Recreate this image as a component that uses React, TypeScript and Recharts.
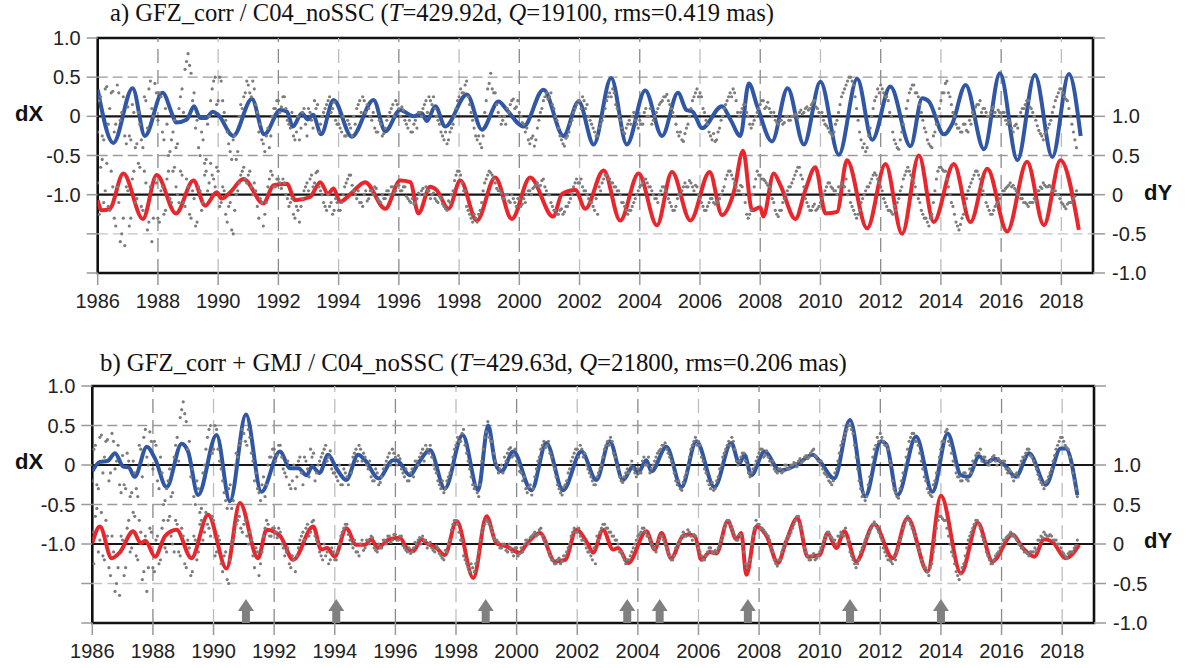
import React from "react";
import { ComposedChart, Line, Scatter, XAxis, YAxis, ReferenceLine, ReferenceArea } from "recharts";

// x axis
const yearTicks = [1986, 1988, 1990, 1992, 1994, 1996, 1998, 2000, 2002, 2004, 2006, 2008, 2010, 2012, 2014, 2016, 2018];
const X_MIN = 1986;
const X_MAX = 2019.05;
const leftTicks = [1, 0.5, 0, -0.5, -1, -1.5, -2];
const rightTicks = [2, 1.5, 1, 0.5, 0, -0.5, -1];

// panel a) model lines [year, mas]
const aDX = [[1986.0,0.34],[1986.52,-0.34],[1987.16,0.36],[1987.57,-0.25],[1988.15,0.30],[1988.5,0.0],[1988.6,-0.08],[1988.96,-0.04],[1989.2,0.13],[1989.4,-0.02],[1989.6,-0.02],[1989.82,0.06],[1990.0,0.02],[1990.5,-0.25],[1991.12,0.22],[1991.53,-0.23],[1992.06,0.08],[1992.28,0.06],[1992.48,-0.13],[1992.78,0.04],[1992.98,-0.04],[1993.15,0.02],[1993.42,-0.23],[1993.83,0.21],[1994.44,-0.26],[1995.16,0.21],[1995.55,-0.19],[1996.04,0.08],[1996.49,0.0],[1996.76,0.04],[1996.93,-0.06],[1997.21,0.13],[1997.54,-0.13],[1998.26,0.28],[1998.76,-0.17],[1999.31,0.19],[1999.59,0.08],[2000.14,-0.13],[2000.8,0.34],[2001.47,-0.25],[2001.97,0.19],[2002.47,-0.36],[2003.05,0.49],[2003.57,-0.36],[2004.18,0.33],[2004.74,-0.25],[2005.27,0.30],[2005.55,0.08],[2005.75,0.06],[2006.07,-0.15],[2006.73,0.13],[2007.01,-0.04],[2007.34,-0.25],[2007.62,0.42],[2007.9,0.13],[2008.39,-0.32],[2008.91,0.36],[2009.45,-0.36],[2010.0,0.44],[2010.61,-0.49],[2011.22,0.48],[2011.72,-0.30],[2012.32,0.38],[2012.99,-0.38],[2013.38,0.23],[2013.6,0.19],[2014.1,-0.23],[2014.37,-0.1],[2014.82,0.40],[2015.43,-0.42],[2015.96,0.55],[2016.54,-0.56],[2017.12,0.53],[2017.7,-0.52],[2018.25,0.54],[2018.64,-0.25]];
const aDY = [[1986.0,-0.07],[1986.13,-0.2],[1986.4,-0.18],[1986.85,0.27],[1987.5,-0.31],[1987.96,0.25],[1988.6,-0.24],[1989.18,0.18],[1989.57,-0.14],[1989.95,0.03],[1990.12,-0.05],[1990.4,0.03],[1990.84,0.2],[1991.5,-0.11],[1991.84,0.12],[1992.28,0.14],[1992.56,-0.07],[1993.05,-0.03],[1993.39,0.16],[1993.65,0.01],[1993.83,0.08],[1994.05,-0.09],[1994.4,0.01],[1994.88,0.16],[1995.55,-0.18],[1996.04,0.18],[1996.38,0.16],[1996.65,-0.24],[1997.04,0.1],[1997.25,0.06],[1997.65,-0.18],[1998.04,0.18],[1998.59,-0.33],[1999.2,0.22],[1999.75,-0.31],[2000.36,0.22],[2001.12,-0.28],[2001.42,0.01],[2001.86,0.06],[2002.19,-0.18],[2002.8,0.31],[2003.35,-0.33],[2003.96,0.27],[2004.57,-0.39],[2005.07,0.29],[2005.68,-0.33],[2006.32,0.29],[2006.73,-0.26],[2007.12,0.03],[2007.43,0.56],[2007.73,-0.2],[2008.0,-0.16],[2008.1,-0.28],[2008.45,0.27],[2008.67,0.12],[2009.17,-0.31],[2009.5,0.06],[2009.83,0.35],[2010.17,-0.24],[2010.55,-0.22],[2010.88,0.44],[2011.55,-0.43],[2012.16,0.39],[2012.71,-0.5],[2013.27,0.5],[2013.76,-0.35],[2014.43,0.39],[2014.98,-0.35],[2015.54,0.33],[2016.2,-0.47],[2016.86,0.42],[2017.42,-0.39],[2017.97,0.44],[2018.58,-0.45]];

// panel b) model lines
const bDX = [[1986.0,-0.08],[1986.25,0.04],[1986.5,0.05],[1986.75,0.15],[1987.02,-0.02],[1987.2,-0.03],[1987.4,-0.15],[1987.8,0.23],[1988.07,0.08],[1988.45,-0.28],[1988.95,0.27],[1989.16,0.17],[1989.49,-0.38],[1990.1,0.38],[1990.54,-0.46],[1991.07,0.64],[1991.58,-0.34],[1992.19,0.17],[1992.52,-0.04],[1992.8,-0.04],[1993.07,-0.13],[1993.25,-0.02],[1993.5,-0.10],[1993.78,0.13],[1994.05,-0.04],[1994.38,-0.19],[1994.77,0.13],[1995.0,0.06],[1995.45,-0.17],[1995.92,0.06],[1996.04,0.06],[1996.48,-0.13],[1996.75,0.02],[1997.14,0.19],[1997.63,-0.30],[1998.22,0.38],[1998.73,-0.32],[1999.06,0.50],[1999.3,0.02],[1999.5,-0.08],[1999.89,0.17],[2000.49,-0.32],[2000.98,0.28],[2001.53,-0.32],[2002.14,0.17],[2002.63,-0.19],[2003.07,0.30],[2003.51,-0.19],[2003.84,-0.02],[2004.0,-0.10],[2004.28,0.06],[2004.45,-0.08],[2004.94,0.23],[2005.44,-0.28],[2005.93,0.30],[2006.53,-0.28],[2007.08,0.28],[2007.35,0.02],[2007.52,0.13],[2007.74,-0.13],[2008.18,0.17],[2008.68,-0.07],[2009.23,0.0],[2009.77,0.13],[2010.0,0.05],[2010.48,-0.17],[2011.0,0.57],[2011.5,-0.40],[2012.02,0.30],[2012.2,0.26],[2012.57,-0.38],[2013.18,0.36],[2013.72,-0.34],[2014.22,0.40],[2014.66,-0.13],[2014.9,-0.15],[2015.26,0.11],[2015.5,0.03],[2015.76,0.08],[2016.1,0.0],[2016.47,-0.15],[2016.91,0.15],[2017.46,-0.25],[2017.95,0.21],[2018.12,0.21],[2018.5,-0.38]];
const bDY = [[1986.0,0.01],[1986.25,0.22],[1986.64,-0.18],[1986.9,-0.11],[1987.35,0.16],[1987.6,0.01],[1987.75,0.04],[1988.07,-0.16],[1988.4,0.1],[1988.78,0.18],[1989.27,-0.18],[1989.82,0.37],[1990.43,-0.31],[1990.87,0.52],[1991.47,-0.18],[1991.75,0.18],[1992.2,0.1],[1992.63,-0.2],[1993.29,0.22],[1993.55,-0.07],[1993.75,-0.05],[1994.0,-0.16],[1994.38,0.2],[1994.7,-0.01],[1995.0,-0.01],[1995.2,0.06],[1995.42,-0.05],[1995.6,0.0],[1995.8,0.06],[1996.15,0.08],[1996.37,-0.05],[1996.59,-0.09],[1996.86,0.06],[1997.03,0.01],[1997.35,-0.05],[1997.63,-0.14],[1998.02,0.29],[1998.57,-0.43],[1999.01,0.35],[1999.33,0.01],[1999.66,-0.03],[2000.1,-0.11],[2000.33,0.0],[2000.77,0.14],[2001.26,-0.22],[2001.6,-0.2],[2001.97,0.18],[2002.35,0.0],[2002.52,-0.11],[2002.85,0.18],[2003.18,-0.07],[2003.35,-0.05],[2003.68,-0.24],[2004.28,0.16],[2004.56,-0.07],[2004.78,0.14],[2005.1,-0.18],[2005.48,0.1],[2005.65,0.12],[2005.88,0.1],[2006.1,-0.2],[2006.37,-0.1],[2006.59,-0.12],[2006.97,0.29],[2007.25,0.06],[2007.41,0.14],[2007.58,-0.39],[2007.91,0.22],[2008.25,0.1],[2008.62,-0.24],[2008.89,0.03],[2009.27,0.33],[2009.6,-0.16],[2010.0,-0.14],[2010.26,0.14],[2010.55,-0.05],[2010.81,0.16],[2011.2,-0.22],[2011.8,0.25],[2012.41,-0.18],[2012.9,0.33],[2013.56,-0.35],[2014.0,0.61],[2014.66,-0.37],[2015.21,0.27],[2015.7,-0.22],[2016.36,0.12],[2016.7,-0.05],[2017.08,-0.16],[2017.4,0.06],[2017.67,0.03],[2018.12,-0.18],[2018.56,-0.01]];

// observed C04_noSSC samples, one every 0.1 yr from 1986.0 (and a second run from 1986.05)
const obsDX = [
  -0.2,0.25,-0.3,0.38,0.1,0.32,-0.1,0.3,0.05,-0.25,
  0.12,-0.3,0.05,-0.35,-0.1,-0.4,0.2,0.35,0.1,0.42,
  -0.05,0.25,-0.3,-0.1,-0.45,-0.2,-0.4,0.1,0.35,0.6,
  0.8,0.55,0.3,-0.05,-0.5,-0.3,-0.55,0.0,0.35,0.5,
  0.2,0.45,0.05,-0.2,-0.45,-0.3,-0.55,0.0,0.1,0.3,
  0.4,0.25,0.35,0.05,-0.1,-0.35,-0.25,-0.4,0.0,0.1,
  0.2,0.12,0.25,-0.05,-0.15,-0.25,-0.2,-0.3,0.05,-0.1,
  0.1,-0.05,0.2,0.15,-0.1,0.05,0.15,0.25,0.1,-0.05,
  -0.1,-0.2,-0.25,-0.05,-0.15,0.0,0.1,0.2,0.25,0.05,
  0.1,-0.05,-0.15,-0.2,-0.1,-0.22,-0.05,0.05,0.15,0.2,
  0.1,0.12,-0.05,-0.15,-0.2,-0.1,-0.15,0.05,0.1,0.2,
  0.25,0.15,0.1,-0.05,-0.2,-0.3,-0.35,-0.2,-0.1,0.1,
  0.25,0.3,0.4,0.25,0.05,-0.15,-0.3,-0.35,-0.25,0.2,
  0.42,0.35,0.3,0.05,-0.1,0.0,0.1,0.15,0.22,0.12,
  0.05,-0.08,-0.2,-0.3,-0.28,-0.38,-0.15,0.05,0.2,0.3,
  0.25,0.15,0.0,-0.15,-0.3,-0.38,-0.25,-0.1,0.05,0.15,
  0.2,0.25,0.1,0.0,-0.1,-0.2,-0.25,-0.1,0.0,0.2,
  0.3,0.35,0.15,0.0,-0.15,-0.22,-0.1,-0.1,0.05,-0.1,
  -0.05,-0.1,0.1,0.0,-0.1,0.0,0.1,0.18,0.25,0.28,
  0.15,0.05,-0.1,-0.25,-0.3,-0.22,-0.1,0.1,0.25,0.35,
  0.3,0.1,-0.05,-0.2,-0.3,-0.32,-0.2,-0.05,0.1,0.2,
  0.3,0.35,0.2,0.0,0.1,0.15,0.0,-0.15,-0.05,0.05,
  0.15,0.2,0.12,0.1,0.0,-0.05,-0.1,-0.05,-0.08,0.0,
  -0.05,0.0,0.02,0.05,0.03,0.1,0.08,0.15,0.2,0.1,
  0.0,-0.05,-0.12,-0.2,-0.25,-0.1,0.05,0.25,0.35,0.45,
  0.5,0.4,0.1,-0.2,-0.4,-0.45,-0.25,0.0,0.2,0.35,
  0.4,0.3,0.25,0.05,-0.2,-0.35,-0.42,-0.2,0.0,0.2,
  0.35,0.4,0.3,0.15,-0.05,-0.2,-0.35,-0.4,-0.2,0.0,
  0.2,0.3,0.45,0.25,0.05,-0.1,-0.15,-0.2,-0.1,-0.2,
  -0.1,0.0,0.15,0.2,0.1,0.05,0.0,0.1,0.05,0.08,
  0.0,0.05,-0.1,-0.08,-0.2,-0.1,0.0,0.1,0.15,0.2,
  0.1,0.0,-0.12,-0.22,-0.3,-0.2,-0.1,0.05,0.2,0.3,
  0.35,0.25,0.2,0.0,-0.2,-0.4,
];
const obsDX2 = [
  0.2,-0.25,0.35,-0.1,0.3,-0.2,0.4,-0.05,0.25,-0.35,
  -0.25,0.15,-0.4,0.05,-0.3,0.25,-0.15,0.45,0.0,0.3,
  0.3,-0.2,0.1,-0.5,-0.3,-0.05,-0.35,0.25,0.05,0.7,
  0.65,0.2,-0.15,-0.4,-0.2,-0.6,-0.1,0.2,0.45,0.15,
  0.5,0.2,-0.05,-0.35,-0.55,-0.25,-0.45,0.15,0.25,0.45,
  0.3,0.45,0.15,-0.2,-0.3,-0.45,-0.15,-0.25,0.1,0.2,
  0.05,0.25,0.1,-0.1,0.05,-0.3,0.0,-0.15,0.1,-0.25,
  0.05,-0.15,0.1,-0.2,0.0,0.1,0.2,0.05,0.18,-0.1,
  -0.15,0.0,-0.25,-0.1,-0.25,-0.1,0.15,0.05,0.2,0.15,
  0.0,0.05,-0.2,-0.05,-0.25,-0.15,0.0,0.1,0.0,0.15,
  0.0,0.08,-0.1,-0.05,-0.2,-0.05,0.05,0.0,0.15,0.05,
  0.2,0.25,0.0,-0.1,-0.25,-0.2,-0.3,-0.15,0.0,0.2,
  0.35,0.3,0.45,0.15,-0.05,-0.25,-0.25,-0.4,0.05,0.35,
  0.55,0.3,0.15,0.0,-0.05,-0.1,0.05,0.2,0.1,0.2,
  0.0,-0.1,-0.15,-0.35,-0.25,-0.3,-0.05,0.1,0.25,0.22,
  0.3,0.1,-0.05,-0.25,-0.35,-0.28,-0.2,-0.05,0.1,0.2,
  0.1,0.2,0.15,-0.05,-0.15,-0.25,-0.15,-0.05,0.1,0.25,
  0.25,0.3,0.1,-0.05,-0.2,-0.15,-0.05,0.0,-0.05,-0.15,
  -0.1,0.05,0.0,0.1,-0.05,0.05,0.15,0.2,0.25,0.2,
  0.1,0.0,-0.2,-0.2,-0.32,-0.15,0.0,0.2,0.3,0.25,
  0.25,0.05,-0.1,-0.25,-0.22,-0.3,-0.15,0.0,0.15,0.25,
  0.25,0.3,0.05,0.05,0.15,0.05,-0.1,-0.1,0.0,0.1,
  0.2,0.1,0.18,0.05,0.05,-0.08,-0.05,-0.1,0.0,-0.05,
  0.0,0.03,-0.02,0.08,0.05,0.12,0.1,0.18,0.12,0.05,
  0.05,-0.1,-0.15,-0.22,-0.2,-0.05,0.15,0.3,0.4,0.5,
  0.45,0.25,-0.05,-0.3,-0.35,-0.4,-0.15,0.1,0.25,0.3,
  0.35,0.25,0.2,0.0,-0.3,-0.4,-0.3,-0.1,0.1,0.3,
  0.4,0.3,0.25,0.05,-0.15,-0.3,-0.38,-0.25,-0.1,0.1,
  0.3,0.42,0.3,0.15,0.0,-0.15,-0.2,-0.1,-0.18,-0.05,
  0.05,0.12,0.15,0.05,0.1,0.0,0.05,0.12,0.0,0.05,
  0.05,-0.05,-0.05,-0.15,-0.12,-0.15,0.05,0.1,0.2,0.12,
  0.05,-0.05,-0.18,-0.25,-0.22,-0.15,-0.05,0.12,0.25,0.35,
  0.3,0.22,0.1,-0.1,-0.3,
];
const obsDY = [
  0.15,0.35,-0.1,0.4,-0.2,0.1,-0.4,-0.1,-0.5,-0.65,
  0.05,-0.3,0.3,-0.05,0.35,-0.2,0.15,-0.35,-0.6,0.2,
  -0.3,0.05,-0.25,0.2,-0.05,0.3,0.1,-0.1,0.25,-0.15,
  0.1,-0.3,-0.05,-0.35,0.05,-0.1,0.3,0.15,0.25,0.1,
  0.3,-0.1,0.05,-0.35,-0.1,-0.5,0.0,0.15,0.3,0.2,
  0.25,0.1,0.15,-0.15,-0.05,-0.4,-0.1,0.2,0.25,0.1,
  0.2,0.08,0.15,-0.05,-0.1,-0.25,-0.15,-0.35,-0.05,0.1,
  0.05,0.25,0.15,0.3,0.05,-0.1,-0.2,-0.15,-0.25,-0.05,
  -0.2,-0.1,0.1,0.2,0.25,0.05,-0.05,-0.1,-0.15,0.05,
  -0.05,0.05,0.1,-0.05,-0.1,-0.05,0.05,0.0,0.1,0.05,
  0.12,0.05,0.1,-0.05,-0.1,-0.12,-0.05,0.0,0.08,0.1,
  0.05,0.0,-0.05,-0.1,-0.05,-0.15,-0.2,-0.1,0.05,0.25,
  0.3,0.15,0.05,-0.2,-0.3,-0.25,-0.35,-0.2,0.05,0.2,
  0.3,0.25,0.15,0.05,0.02,-0.05,0.0,-0.1,-0.05,-0.15,
  -0.05,-0.12,-0.1,0.05,0.0,0.1,0.15,0.12,0.2,0.05,
  0.0,-0.15,-0.2,-0.25,-0.18,-0.22,-0.15,-0.05,0.1,0.2,
  0.15,0.1,0.05,-0.05,-0.1,-0.2,-0.25,0.05,0.2,0.25,
  0.2,0.15,0.1,0.05,-0.1,-0.15,-0.25,-0.2,-0.1,0.0,
  0.1,0.15,0.2,0.1,0.05,-0.05,-0.1,0.05,0.1,0.0,
  -0.1,-0.2,-0.15,0.0,0.05,0.15,0.1,0.15,0.05,0.1,
  -0.05,-0.15,-0.2,-0.1,-0.05,-0.12,-0.1,0.0,0.1,0.25,
  0.3,0.2,0.1,0.05,0.1,-0.1,-0.3,-0.2,0.1,0.3,
  0.25,0.2,0.15,0.1,-0.05,-0.2,-0.28,-0.2,-0.05,0.05,
  0.1,0.2,0.3,0.35,0.2,-0.05,-0.15,-0.2,-0.12,-0.18,
  -0.1,0.0,0.1,0.15,0.08,0.05,0.1,0.15,0.1,0.0,
  -0.1,-0.2,-0.3,-0.2,-0.05,0.05,0.1,0.2,0.28,0.2,
  0.1,-0.05,-0.15,-0.2,-0.25,-0.2,-0.05,0.1,0.25,0.35,
  0.25,0.15,0.0,-0.1,-0.25,-0.3,-0.4,-0.25,0.05,0.3,
  0.35,0.3,0.2,0.0,-0.15,-0.35,-0.45,-0.3,-0.15,0.05,
  0.15,0.25,0.3,0.2,0.05,-0.1,-0.2,-0.25,-0.15,-0.1,
  0.0,0.05,0.1,0.15,0.12,0.05,0.0,-0.05,-0.1,-0.15,
  -0.1,-0.05,0.05,0.1,0.15,0.1,0.12,0.05,0.05,0.0,
  -0.1,-0.15,-0.12,-0.1,-0.05,0.05,
];
const obsDY2 = [
  -0.25,0.45,0.05,-0.15,0.3,-0.3,0.1,-0.6,-0.3,0.1,
  -0.4,0.2,-0.1,0.4,-0.15,0.3,-0.45,0.1,-0.3,0.15,
  -0.35,0.1,-0.2,0.3,-0.1,0.35,0.0,0.3,-0.1,0.2,
  -0.25,0.05,-0.4,0.1,-0.2,0.25,0.05,0.4,0.2,0.35,
  -0.15,0.1,-0.25,-0.15,-0.45,-0.2,0.05,0.25,0.35,0.15,
  0.3,0.0,0.05,-0.3,-0.1,-0.25,0.1,0.3,0.1,0.2,
  0.15,0.2,0.0,-0.15,-0.05,-0.3,-0.2,-0.15,0.05,0.15,
  0.2,0.1,0.28,0.1,0.0,-0.15,0.0,-0.1,-0.2,-0.1,
  -0.2,0.0,0.15,0.25,0.12,0.0,0.05,-0.1,0.0,-0.08,
  0.05,0.0,0.08,-0.08,0.0,-0.05,0.05,0.1,0.02,0.12,
  0.05,0.1,-0.02,-0.08,-0.05,-0.1,0.02,0.05,0.0,0.05,
  -0.05,0.02,-0.08,-0.02,-0.12,-0.18,-0.08,0.0,0.18,0.3,
  0.25,0.05,-0.15,-0.25,-0.35,-0.3,-0.25,-0.1,0.15,0.25,
  0.28,0.2,0.08,0.05,-0.05,0.0,-0.08,0.0,-0.1,-0.05,
  -0.15,-0.05,0.0,0.05,0.08,0.12,0.1,0.18,0.1,0.0,
  -0.1,-0.2,-0.25,-0.2,-0.25,-0.15,-0.1,0.0,0.15,0.15,
  0.2,0.05,0.0,-0.1,-0.15,-0.05,0.1,0.15,0.25,0.2,
  0.15,0.1,0.05,0.0,-0.1,-0.2,-0.2,-0.15,-0.05,0.05,
  0.12,0.2,0.15,0.1,0.0,-0.05,0.0,0.1,0.05,-0.05,
  -0.15,-0.2,-0.05,0.0,0.1,0.1,0.18,0.1,0.12,0.0,
  -0.1,-0.2,-0.15,-0.05,-0.1,-0.08,-0.05,0.05,0.2,0.3,
  0.25,0.15,0.05,0.12,0.0,-0.25,-0.25,0.0,0.2,0.25,
  0.2,0.18,0.12,0.05,-0.1,-0.25,-0.2,-0.1,0.0,0.1,
  0.15,0.25,0.35,0.25,0.1,-0.1,-0.2,-0.15,-0.2,-0.15,
  -0.05,0.05,0.15,0.1,0.05,0.0,0.1,0.12,0.2,0.05,
  -0.15,-0.25,-0.25,-0.1,0.0,0.1,0.15,0.25,0.25,0.15,
  0.05,-0.1,-0.2,-0.22,-0.15,-0.1,0.05,0.2,0.3,0.3,
  0.2,0.1,-0.05,-0.2,-0.3,-0.35,-0.3,-0.1,0.2,0.35,
  0.32,0.3,0.1,-0.1,-0.25,-0.4,-0.38,-0.25,-0.05,0.1,
  0.2,0.3,0.25,0.1,0.0,-0.15,-0.25,-0.2,-0.12,-0.05,
  0.05,0.08,0.12,0.1,0.08,0.0,-0.05,-0.1,-0.12,-0.1,
  -0.1,-0.08,0.05,0.08,0.12,0.1,0.1,0.05,0.0,-0.05,
  -0.12,-0.18,-0.1,-0.1,-0.02,
];

// epochs marked with arrows in panel b
const arrowYears = [1991.07, 1994.05, 1998.98, 2003.65, 2004.72, 2007.63, 2011.0, 2014.0];

const toPts = (arr: number[][]) => arr.map(([t, v]) => ({ t, v }));
const obsPts = (vals: number[], start: number) => vals.map((v, i) => ({ t: start + i / 10, v }));

const BLUE = "#3056a6";
const RED = "#e8262c";
const GREY_DOT = "#7c7c7c";
const SANS = "'Liberation Sans', Arial, sans-serif";
const SERIF = "'Liberation Serif', 'Times New Roman', serif";

const dotShape = (p: any) => <circle cx={p.cx} cy={p.cy} r={1.6} fill={GREY_DOT} />;
const arrowShape = (p: any) => {
  const x = p.cx;
  const y = p.cy;
  return (
    <polygon
      points={`${x - 4},${y} ${x + 4},${y} ${x + 4},${y - 12} ${x + 8},${y - 12} ${x},${y - 24} ${x - 8},${y - 12} ${x - 4},${y - 12}`}
      fill="#808080"
    />
  );
};

const fmtLeft = (v: number) => (v < -1 ? "" : v === 0 ? "0" : v.toFixed(1));
const fmtRight = (v: number) => (v > 1 ? "" : v === 0 ? "0" : v.toFixed(1));

function Panel(props: {
  top: number;
  title: React.ReactNode;
  titleLeft: number;
  titleTop: number;
  titleSize: number;
  dx: number[][];
  dy: number[][];
  dotsOnTop: boolean;
  arrows: boolean;
  marginTop: number;
  marginBottom: number;
  leftW: number;
  rightW: number;
}) {
  const { top, dx, dy, dotsOnTop } = props;
  const tickStyle = { fontSize: 20, fill: "#222", fontFamily: SANS };

  const lines = [
    <Line key="lx" data={toPts(dx)} dataKey="v" yAxisId="l" type="monotone" dot={false} stroke={BLUE} strokeWidth={4} isAnimationActive={false} />,
    <Line key="ly" data={toPts(dy)} dataKey="v" yAxisId="r" type="monotone" dot={false} stroke={RED} strokeWidth={4} isAnimationActive={false} />,
  ];
  const dots = [
    <Scatter key="ox" data={obsPts(obsDX, 1986)} dataKey="v" yAxisId="l" shape={dotShape} isAnimationActive={false} />,
    <Scatter key="ox2" data={obsPts(obsDX2, 1986.05)} dataKey="v" yAxisId="l" shape={dotShape} isAnimationActive={false} />,
    <Scatter key="oy" data={obsPts(obsDY, 1986)} dataKey="v" yAxisId="r" shape={dotShape} isAnimationActive={false} />,
    <Scatter key="oy2" data={obsPts(obsDY2, 1986.05)} dataKey="v" yAxisId="r" shape={dotShape} isAnimationActive={false} />,
  ];

  return (
    <div style={{ position: "absolute", left: 0, top, width: 1188, height: 334 }}>
      <div style={{ position: "absolute", left: props.titleLeft, top: props.titleTop, fontFamily: SERIF, fontSize: props.titleSize, color: "#111", whiteSpace: "nowrap" }}>
        {props.title}
      </div>
      <ComposedChart
        width={1188}
        height={334}
        margin={{ top: props.marginTop, right: 0, bottom: props.marginBottom, left: 0 }}
      >
        <XAxis
          type="number"
          dataKey="t"
          domain={[X_MIN, X_MAX]}
          ticks={yearTicks}
          allowDataOverflow
          axisLine={false}
          tickSize={12}
          tickMargin={9}
          tickLine={{ stroke: "#999", strokeWidth: 1.5 }}
          tick={tickStyle}
          height={40}
        />
        <YAxis
          yAxisId="l"
          dataKey="v"
          type="number"
          domain={[-2, 1]}
          ticks={leftTicks}
          allowDataOverflow
          interval={0}
          axisLine={false}
          tickSize={11}
          tickMargin={6}
          tickLine={{ stroke: "#999", strokeWidth: 1.5 }}
          tick={tickStyle}
          tickFormatter={fmtLeft}
          width={props.leftW}
        />
        <YAxis
          yAxisId="r"
          orientation="right"
          dataKey="v"
          type="number"
          domain={[-1, 2]}
          ticks={rightTicks}
          allowDataOverflow
          interval={0}
          axisLine={false}
          tickSize={12}
          tickMargin={7}
          tickLine={{ stroke: "#999", strokeWidth: 1.5 }}
          tick={tickStyle}
          tickFormatter={fmtRight}
          width={props.rightW}
        />
        {yearTicks.slice(1).map((y, i) => (
          <ReferenceLine key={"gx" + y} yAxisId="l" x={y} stroke={i % 2 === 0 ? "#8a8a8a" : "#bdbdbd"} strokeWidth={1.3} strokeDasharray="14 7" />
        ))}
        {[0.5, -0.5, -1.5].map((v) => (
          <ReferenceLine key={"gy" + v} yAxisId="l" y={v} stroke={v === -1.5 ? "#c4c4c4" : "#9a9a9a"} strokeWidth={1.3} strokeDasharray="10 5" />
        ))}
        <ReferenceLine yAxisId="l" y={0} stroke="#161616" strokeWidth={2.2} />
        <ReferenceLine yAxisId="l" y={-1} stroke="#161616" strokeWidth={2.2} />
        {dotsOnTop ? lines : dots}
        {dotsOnTop ? dots : lines}
        {props.arrows && (
          <Scatter
            data={arrowYears.map((t) => ({ t, v: -2 }))}
            dataKey="v"
            yAxisId="l"
            shape={arrowShape}
            isAnimationActive={false}
          />
        )}
        <ReferenceArea yAxisId="l" x1={X_MIN} x2={X_MAX} y1={-2} y2={1} fill="none" stroke="#111" strokeWidth={2.6} ifOverflow="visible" />
      </ComposedChart>
      <div style={{ position: "absolute", left: 15, top: props.marginTop + 78 - 15, fontFamily: SANS, fontWeight: "bold", fontSize: 22, color: "#111" }}>dX</div>
      <div style={{ position: "absolute", left: 1144, top: props.marginTop + 157 - 15, fontFamily: SANS, fontWeight: "bold", fontSize: 22, color: "#111" }}>dY</div>
    </div>
  );
}

export default function App() {
  return (
    <div style={{ position: "absolute", left: 0, top: 0, width: 1188, height: 668, background: "#fff", overflow: "hidden" }}>
      <Panel
        top={0}
        titleLeft={110}
        titleTop={-1}
        titleSize={24.6}
        title={<span>a) GFZ_corr / C04_noSSC (<i>T</i>=429.92d, <i>Q</i>=19100, rms=0.419 mas)</span>}
        dx={aDX}
        dy={aDY}
        dotsOnTop={false}
        arrows={false}
        marginTop={38}
        marginBottom={21}
        leftW={97.7}
        rightW={95}
      />
      <Panel
        top={334}
        titleLeft={100}
        titleTop={15}
        titleSize={24.8}
        title={<span>b) GFZ_corr + GMJ / C04_noSSC (<i>T</i>=429.63d, <i>Q</i>=21800, rms=0.206 mas)</span>}
        dx={bDX}
        dy={bDY}
        dotsOnTop={true}
        arrows={true}
        marginTop={52}
        marginBottom={5}
        leftW={92.3}
        rightW={94}
      />
    </div>
  );
}
